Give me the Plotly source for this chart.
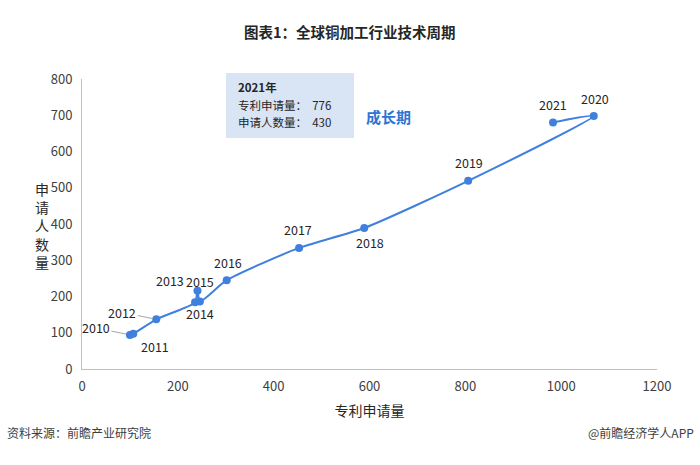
import plotly.graph_objects as go

# Data (x: patent applications, y: applicants)
years = ["2010", "2011", "2012", "2013", "2015", "2014", "2016", "2017", "2018", "2019", "2020", "2021"]
patents = [100, 107, 155, 236, 241, 246, 302, 453, 589, 806, 1068, 983]
applicants = [94, 97, 137, 184, 216, 186, 245, 334, 389, 519, 698, 680]

x_ticks = [0, 200, 400, 600, 800, 1000, 1200]
y_ticks = [0, 100, 200, 300, 400, 500, 600, 700, 800]

info_lines = ["<b>2021年</b>", "专利申请量：  776", "申请人数量：  430"]

# label placement: (kind, dx, dy) in pixels, dy positive = upward
label_offsets = {
    "2010": ("leader", -34, 7),
    "2011": ("shift", 22, -13),
    "2012": ("leader", -34, 7),
    "2013": ("shift", -25, 22),
    "2015": ("shift", 3, 9),
    "2014": ("shift", 0, -12),
    "2016": ("shift", 1, 18),
    "2017": ("shift", -1, 18),
    "2018": ("shift", 6, -15),
    "2019": ("shift", 1, 18),
    "2020": ("shift", 1, 17),
    "2021": ("shift", 0, 18),
}

FONT = "Noto Sans CJK SC"
LINE_COLOR = "#3f80de"
TXT = "#262626"

fig = go.Figure()
fig.add_trace(go.Scatter(
    x=patents, y=applicants, mode="lines+markers",
    line=dict(color=LINE_COLOR, width=2, shape="spline", smoothing=0.6),
    marker=dict(color=LINE_COLOR, size=8),
    hoverinfo="skip", showlegend=False,
))

for yr, px, py in zip(years, patents, applicants):
    kind, dx, dy = label_offsets[yr]
    if kind == "leader":
        fig.add_annotation(x=px, y=py, text=yr, showarrow=True, arrowhead=0,
                           arrowwidth=1, arrowcolor="#a6a6a6", ax=dx, ay=-dy,
                           standoff=4, font=dict(family=FONT, size=12.5, color=TXT))
    else:
        fig.add_annotation(x=px, y=py, text=yr, showarrow=False, xshift=dx, yshift=dy,
                           font=dict(family=FONT, size=12.5, color=TXT))

# info box
fig.add_shape(type="rect", xref="paper", yref="paper",
              x0=(226 - 82) / 575, x1=(354 - 82) / 575,
              y0=(369 - 138) / 290, y1=(369 - 73) / 290,
              fillcolor="#d9e4f4", line=dict(width=0), layer="below")
for i, line in enumerate(info_lines):
    fig.add_annotation(xref="paper", yref="paper", x=(236 - 82) / 575,
                       y=(369 - (87 + 17.5 * i)) / 290,
                       xanchor="left", yanchor="middle", align="left", showarrow=False,
                       text=line, font=dict(family=FONT, size=11.5, color=TXT))
fig.add_annotation(xref="paper", yref="paper", x=(388 - 82) / 575, y=(369 - 104) / 290,
                   showarrow=False, text="<b>成长期</b>",
                   font=dict(family=FONT, size=15, color="#2e74d4"))

# title and footer
fig.add_annotation(xref="paper", yref="paper", x=(350 - 82) / 575, y=(369 - 19) / 290,
                   showarrow=False, text="<b>图表1：全球铜加工行业技术周期</b>",
                   font=dict(family=FONT, size=14.5, color=TXT))
fig.add_annotation(xref="paper", yref="paper", x=(5 - 82) / 575, y=(369 - 443) / 290,
                   xanchor="left", showarrow=False, text="资料来源：前瞻产业研究院",
                   font=dict(family=FONT, size=12, color="#404040"))
fig.add_annotation(xref="paper", yref="paper", x=(696 - 82) / 575, y=(369 - 443) / 290,
                   xanchor="right", showarrow=False, text="@前瞻经济学人APP",
                   font=dict(family=FONT, size=12, color="#404040"))
# vertical y-axis title
fig.add_annotation(xref="paper", yref="paper", x=(33 - 82) / 575, y=(369 - 225) / 290,
                   showarrow=False, text="申<br>请<br>人<br>数<br>量",
                   font=dict(family=FONT, size=14, color=TXT))

fig.update_xaxes(range=[0, 1200], tickvals=x_ticks, showgrid=False, zeroline=False,
                 showline=True, linecolor="#bfbfbf", linewidth=1, ticks="",
                 tickfont=dict(family=FONT, size=13, color="#404040"), ticklabelstandoff=5,
                 title=dict(text="专利申请量", font=dict(family=FONT, size=14, color=TXT), standoff=12))
fig.update_yaxes(range=[0, 800], tickvals=y_ticks, showgrid=False, zeroline=False,
                 showline=True, linecolor="#bfbfbf", linewidth=1, ticks="",
                 tickfont=dict(family=FONT, size=13, color="#404040"), ticklabelstandoff=6)

fig.update_layout(width=700, height=465, margin=dict(l=82, r=43, t=79, b=96),
                  plot_bgcolor="white", paper_bgcolor="white")
fig.write_html("out.html")
